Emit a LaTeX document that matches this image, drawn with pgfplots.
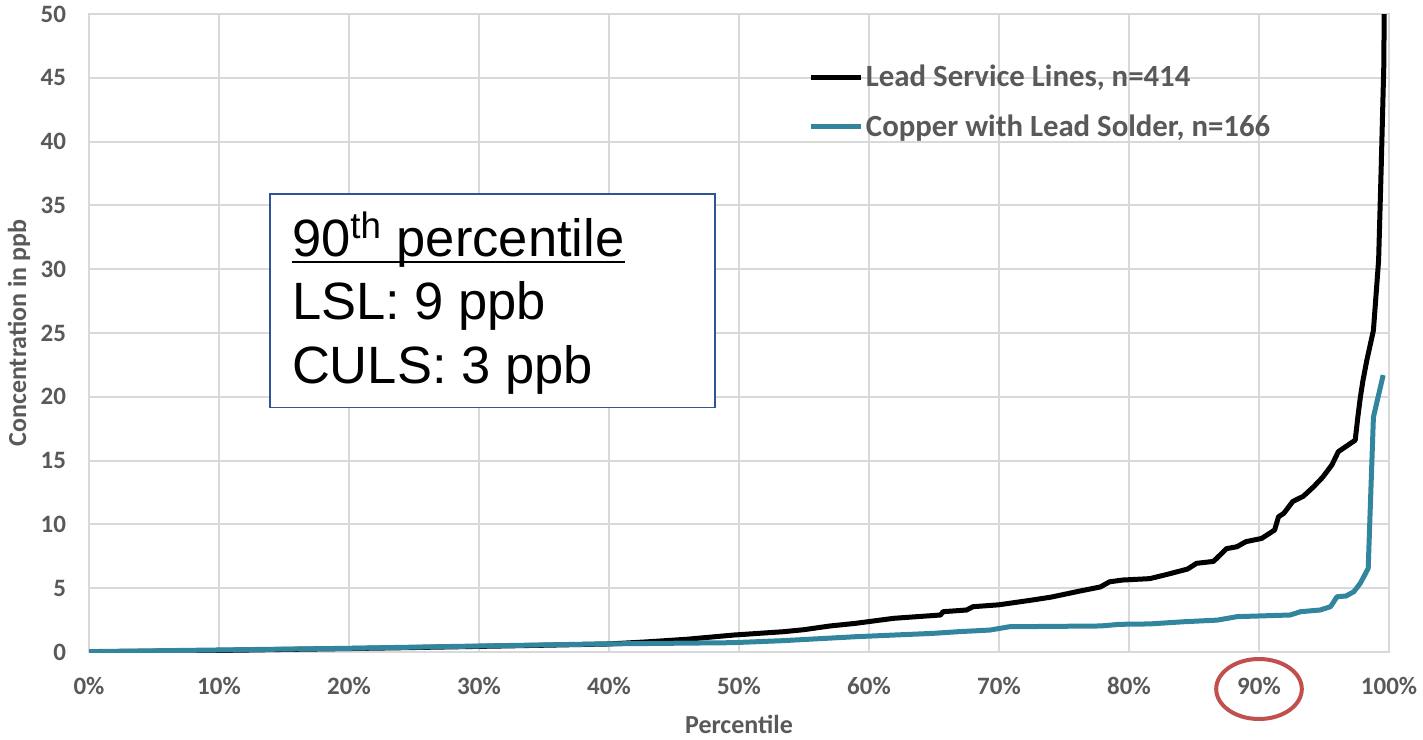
\documentclass[border=0pt]{standalone}
\usepackage{pgfplots}
\pgfplotsset{compat=1.18}
\usepackage{fontspec}
\setmainfont{Carlito}
\newfontfamily\arialfont{Liberation Sans}
\definecolor{lslcol}{HTML}{000000}
\definecolor{culscol}{HTML}{31859C}
\definecolor{txtgray}{HTML}{595959}
\definecolor{gridgray}{HTML}{D9D9D9}
\definecolor{boxblue}{HTML}{2F5597}
\definecolor{ringred}{HTML}{C0504D}
\begin{document}
\begin{tikzpicture}
\path[use as bounding box] (-44.5pt,-43.5pt) rectangle (667pt,326pt);
\begin{axis}[
  scale only axis,
  width=650pt, height=319pt,
  xmin=0, xmax=100, ymin=0, ymax=50,
  xtick={0,10,...,100},
  xticklabels={0\%,10\%,20\%,30\%,40\%,50\%,60\%,70\%,80\%,90\%,100\%},
  ytick={0,5,...,50},
  yticklabels={0,5,10,15,20,25,30,35,40,45,50},
  major tick length=0pt,
  grid=major,
  grid style={draw=gridgray, line width=1pt},
  axis line style={draw=gridgray, line width=1pt},
  tick label style={font=\fontsize{12.5}{15}\bfseries\selectfont, text=txtgray},
  xticklabel style={yshift=-9pt},
  yticklabel style={xshift=-8pt},
  xlabel={Percentile},
  ylabel={Concentration in ppb},
  label style={font=\fontsize{13}{15}\bfseries\selectfont, text=txtgray},
  xlabel style={at={(axis description cs:0.5,-0.1135)}, anchor=center},
  ylabel style={at={(axis description cs:-0.0538,0.5)}, anchor=center},
  legend style={draw=none, fill=none, at={(rel axis cs:0.5535,0.924)}, anchor=north west,
    font=\fontsize{15.4}{18}\bfseries\selectfont, text=txtgray,
    row sep=10.5pt, inner sep=0pt,
    nodes={inner sep=1pt}},
  legend cell align=left,
  legend image code/.code={\draw[#1] (0pt,0pt) -- (25pt,0pt);},
  clip mode=individual,
]
\addplot[lslcol, line width=2.5pt, line join=round] coordinates {
(0,0.02) (5,0.06) (10,0.12) (15,0.2) (20,0.27) (25,0.35) (30,0.44) (35,0.53)
(40,0.63) (43,0.8) (46,1.0) (49.6,1.33) (53.4,1.59) (55,1.75) (57,2.04) (59,2.25)
(61.9,2.64) (65.5,2.9) (65.7,3.16) (67.5,3.29) (68,3.55) (70,3.7) (72.6,4.08)
(74,4.3) (76,4.73) (77.8,5.1) (78.5,5.5) (79.5,5.64) (81.6,5.75) (83,6.1)
(84.5,6.5) (85.2,6.95) (86.5,7.1) (87.5,8.1) (88.3,8.25) (89,8.65) (90.2,8.9)
(91.2,9.56) (91.5,10.6) (91.9,10.86) (92.6,11.8) (93.4,12.2) (94.2,12.95)
(94.9,13.7) (95.6,14.65) (96.1,15.7) (97.4,16.6) (97.6,18.4) (97.8,20.0)
(98.0,21.3) (98.3,22.9) (98.8,25.2) (99.2,30.7) (99.4,38) (99.6,46) (99.7,60)
};
\addlegendentry{Lead Service Lines, n=414}
\addplot[culscol, line width=2.5pt, line join=round] coordinates {
(0,0.03) (10,0.16) (20,0.29) (30,0.47) (39.3,0.63) (49.5,0.73) (53.4,0.89)
(59,1.2) (64.9,1.46) (67,1.6) (69.3,1.72) (70.8,1.98) (77.8,2.04) (79.3,2.17)
(81.6,2.2) (84.2,2.37) (86.8,2.5) (88.3,2.77) (92.4,2.9) (93.2,3.16) (94.7,3.29)
(95.5,3.55) (96.0,4.33) (96.7,4.39) (97.3,4.73) (97.8,5.4) (98.4,6.56)
(98.5,9.56) (98.8,18.4) (99.55,21.7)
};
\addlegendentry{Copper with Lead Solder, n=166}
% annotation box
\draw[boxblue, line width=0.8pt, fill=white] (axis cs:13.92,35.89) rectangle (axis cs:48.15,19.15);
\node[anchor=base west, inner sep=0pt, font=\arialfont\fontsize{26.25}{31}\selectfont]
  (l1) at (axis cs:15.59,31.03) {90\textsuperscript{th} percentile};
\draw[black, line width=1.3pt] ([yshift=-2.9pt]l1.base west) -- ([yshift=-2.9pt]l1.base east);
\node[anchor=base west, inner sep=0pt, font=\arialfont\fontsize{26.25}{31}\selectfont]
  at (axis cs:15.59,26.07) {LSL: 9 ppb};
\node[anchor=base west, inner sep=0pt, font=\arialfont\fontsize{26.25}{31}\selectfont]
  at (axis cs:15.59,21.06) {CULS: 3 ppb};
% ring around 90%
\draw[ringred, line width=2pt] (axis cs:90,-2.9) ellipse [x radius=21.4pt, y radius=15pt];
\end{axis}
\end{tikzpicture}
\end{document}
